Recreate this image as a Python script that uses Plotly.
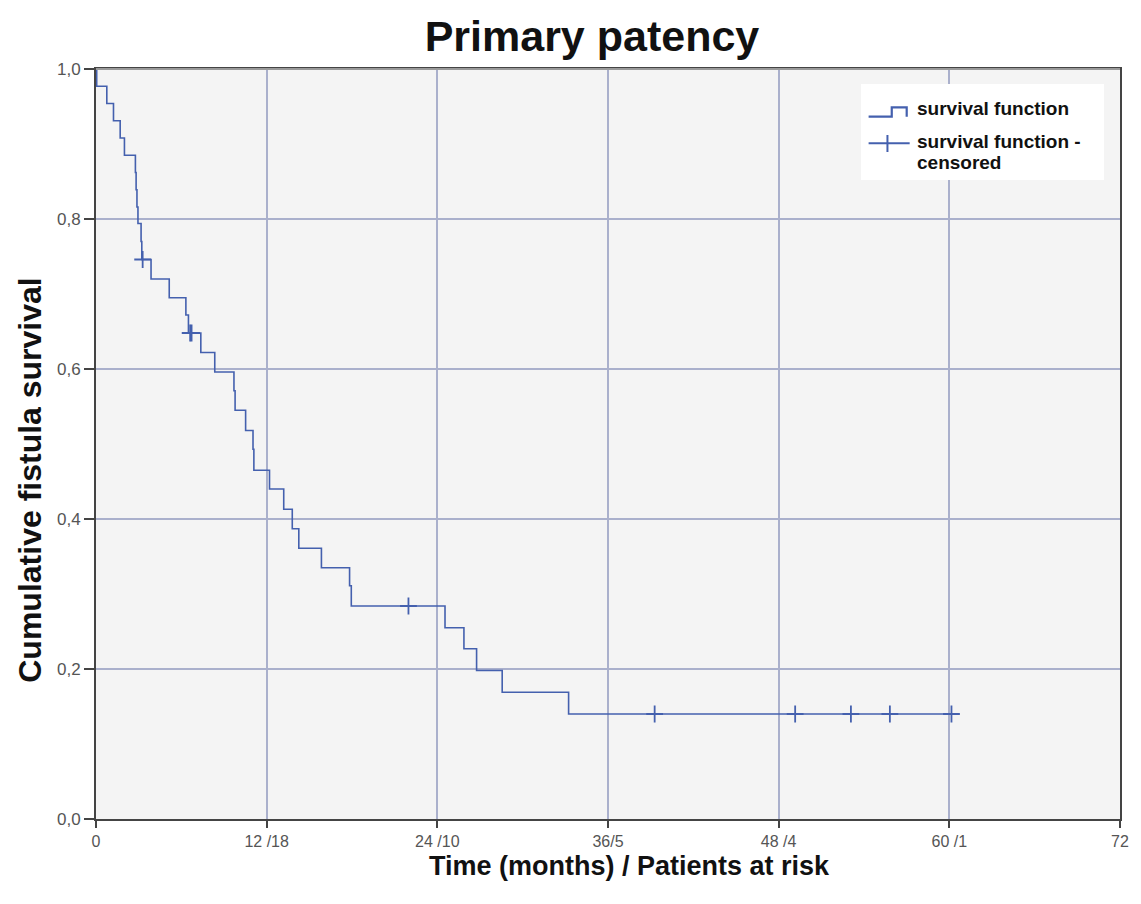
import plotly.graph_objects as go

# ---- data ----
event_times = [0.0, 0.05, 0.76, 1.23, 1.70, 2.00, 2.77, 2.82, 2.88, 2.95, 3.17, 3.22,
               3.87, 5.15, 6.32, 6.50, 7.37, 8.35, 9.70, 9.78, 10.52, 11.04, 11.10,
               12.20, 13.20, 13.80, 14.26, 15.85, 17.83, 17.95, 24.54, 25.87, 26.76,
               28.56, 33.23, 60.15]
survival = [1.0, 0.977, 0.954, 0.931, 0.908, 0.885, 0.862, 0.839, 0.816, 0.794, 0.770, 0.746,
            0.720, 0.695, 0.672, 0.648, 0.622, 0.596, 0.571, 0.545, 0.518, 0.493, 0.465,
            0.440, 0.413, 0.387, 0.361, 0.335, 0.311, 0.284, 0.255, 0.227, 0.198,
            0.169, 0.140, 0.140]

censor_times = [3.28, 6.62, 6.72, 21.97, 39.28, 49.16, 53.08, 55.82, 60.15]
censor_surv = [0.746, 0.648, 0.648, 0.284, 0.140, 0.140, 0.140, 0.140, 0.140]

x_tick_vals = [0, 12, 24, 36, 48, 60, 72]
x_tick_text = ["0", "12 /18", "24 /10", "36/5", "48 /4", "60 /1", "72"]
y_tick_vals = [0.0, 0.2, 0.4, 0.6, 0.8, 1.0]
y_tick_text = ["0,0", "0,2", "0,4", "0,6", "0,8", "1,0"]

LINE = "#4460ae"
GRID = "#aab0cc"
FONT = "Arial, Liberation Sans, sans-serif"

fig = go.Figure()
fig.add_trace(go.Scatter(x=event_times, y=survival, mode="lines", line_shape="hv",
                         line=dict(color=LINE, width=1.6), showlegend=False,
                         name="survival function"))
fig.add_trace(go.Scatter(x=censor_times, y=censor_surv, mode="markers",
                         marker=dict(symbol="cross-thin", size=12,
                                     line=dict(color=LINE, width=1.8)),
                         showlegend=False, name="survival function - censored"))

# manual legend (paper coordinates) + lighter top frame edge
shapes = [
    dict(type="line", xref="paper", yref="paper", x0=0, x1=1, y0=1, y1=1,
         line=dict(color="#9a9a9a", width=2), layer="above"),
    dict(type="rect", xref="paper", yref="paper", x0=0.747, x1=0.9844, y0=0.852, y1=0.98,
         fillcolor="white", line=dict(width=0), layer="above"),
    dict(type="path", xref="paper", yref="paper",
         path="M 0.7545 0.9364 L 0.7771 0.9364 L 0.7771 0.9489 L 0.7917 0.9489 L 0.7917 0.9364",
         line=dict(color=LINE, width=2.2), layer="above"),
    dict(type="line", xref="paper", yref="paper", x0=0.7545, x1=0.7946, y0=0.9009, y1=0.9009,
         line=dict(color=LINE, width=2), layer="above"),
    dict(type="line", xref="paper", yref="paper", x0=0.7729, x1=0.7729, y0=0.8893, y1=0.912,
         line=dict(color=LINE, width=2), layer="above"),
]

LEG_FONT = dict(family=FONT, size=19, color="#111")
annotations = [
    dict(text="<b>survival function</b>", xref="paper", yref="paper", x=0.7995, y=0.948,
         xanchor="left", yanchor="middle", showarrow=False, font=LEG_FONT),
    dict(text="<b>survival function -</b>", xref="paper", yref="paper", x=0.7995, y=0.9031,
         xanchor="left", yanchor="middle", showarrow=False, font=LEG_FONT),
    dict(text="<b>censored</b>", xref="paper", yref="paper", x=0.7995, y=0.8756,
         xanchor="left", yanchor="middle", showarrow=False, font=LEG_FONT),
    dict(text="<b>Time (months) / Patients at risk</b>", xref="paper", yref="paper",
         x=0.521, y=-0.062, xanchor="center", yanchor="middle", showarrow=False,
         font=dict(family=FONT, size=27, color="#111")),
    dict(text="<b>Cumulative fistula survival</b>", xref="paper", yref="paper",
         x=-0.0647, y=0.452, xanchor="center", yanchor="middle", textangle=-90,
         showarrow=False, font=dict(family=FONT, size=32, color="#111")),
]

# page body has an 8px default margin, so the figure is sized/offset to compensate
fig.update_layout(
    width=1133, height=896,
    margin=dict(l=88, r=17, t=61, b=85),
    paper_bgcolor="white", plot_bgcolor="#f4f4f4",
    title=dict(text="<b>Primary patency</b>", x=0.5154, xanchor="center",
               y=0.969, yanchor="middle", font=dict(family=FONT, size=43, color="#111")),
    xaxis=dict(range=[0, 72], tickvals=x_tick_vals, ticktext=x_tick_text,
               showgrid=True, gridcolor=GRID, gridwidth=2, zeroline=False,
               showline=True, linecolor="#444", linewidth=2, mirror=True,
               ticks="outside", ticklen=7, tickcolor="#444", tickwidth=2,
               tickfont=dict(family=FONT, size=16, color="#555")),
    yaxis=dict(range=[0, 1.0], tickvals=y_tick_vals, ticktext=y_tick_text,
               showgrid=True, gridcolor=GRID, gridwidth=2, zeroline=False,
               showline=True, linecolor="#444", linewidth=2, mirror=True,
               ticks="outside", ticklen=10, tickcolor="#444", tickwidth=2,
               tickfont=dict(family=FONT, size=17, color="#555")),
    shapes=shapes, annotations=annotations,
)

fig.write_html("out.html")
